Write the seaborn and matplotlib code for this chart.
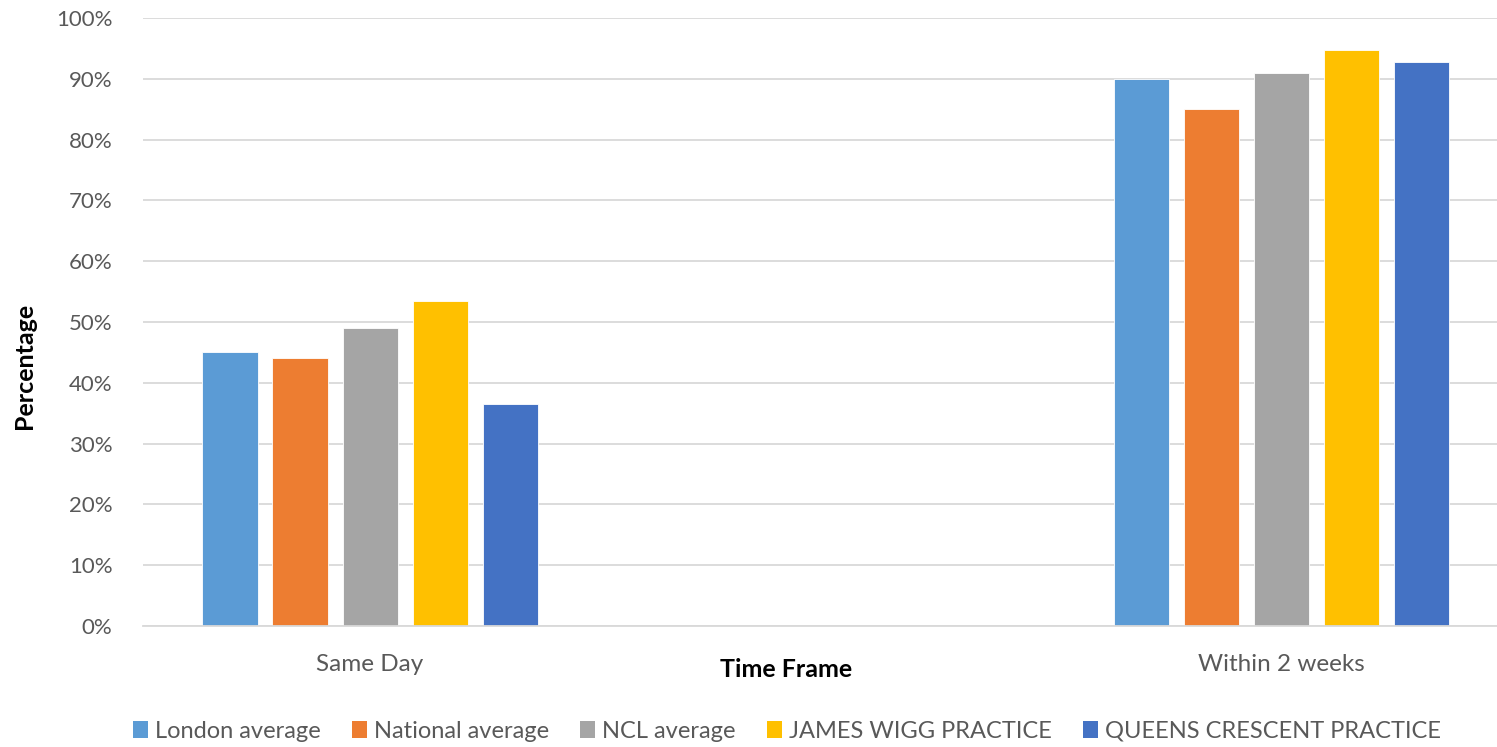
import matplotlib
matplotlib.use("Agg")
import matplotlib.pyplot as plt
import seaborn as sns
import pandas as pd
from matplotlib.patches import Patch
from matplotlib.ticker import FuncFormatter

# Share of patients seen, by time frame and practice/benchmark
time_frames = ["Same Day", "Within 2 weeks"]
series_names = ["London average", "National average", "NCL average",
                "JAMES WIGG PRACTICE", "QUEENS CRESCENT PRACTICE"]
london = [45.0, 90.0]
national = [44.0, 85.0]
ncl = [49.0, 91.0]
james_wigg = [53.4, 94.7]
queens_crescent = [36.5, 92.8]
y_ticks = [0, 10, 20, 30, 40, 50, 60, 70, 80, 90, 100]

colors = ["#5B9BD5", "#ED7D31", "#A5A5A5", "#FFC000", "#4472C4"]

rows = []
for name, vals in zip(series_names, [london, national, ncl, james_wigg, queens_crescent]):
    for tf, v in zip(time_frames, vals):
        rows.append({"Time Frame": tf, "Series": name, "Value": v})
df = pd.DataFrame(rows)

sns.set_theme(style="white")
plt.rcParams["font.family"] = ["Lato", "DejaVu Sans"]

fig = plt.figure(figsize=(14.97, 7.47), dpi=100)
ax = fig.add_axes([143 / 1497, 1 - 626 / 747, 1 - 143 / 1497, (626 - 18) / 747])

sns.barplot(data=df, x="Time Frame", y="Value", hue="Series",
            hue_order=series_names, order=time_frames, palette=colors,
            width=0.384, gap=0.214, saturation=1, errorbar=None,
            edgecolor="white", linewidth=0.6, ax=ax, legend=False)

ax.set_xlim(-0.249, 1.236)
ax.set_ylim(0, 100)
ax.set_yticks(y_ticks)
ax.yaxis.set_major_formatter(FuncFormatter(lambda v, _: f"{int(v)}%"))
ax.yaxis.grid(True, color="#D9D9D9", linewidth=1.3)
ax.set_axisbelow(True)
for s in ["top", "right", "left"]:
    ax.spines[s].set_visible(False)
ax.spines["bottom"].set_color("#D9D9D9")
ax.spines["bottom"].set_linewidth(1.3)
ax.tick_params(axis="both", length=0, colors="#595959")
ax.tick_params(axis="y", labelsize=16, pad=22)
ax.tick_params(axis="x", labelsize=17.5, pad=20)

ax.set_ylabel("Percentage", fontsize=18, fontweight="bold", color="black")
ax.set_xlabel("Time Frame", fontsize=18, fontweight="bold", color="black")
ax.xaxis.set_label_coords((786 - 143) / (1497 - 143), -(658 - 626) / 608)
ax.yaxis.set_label_coords(-(143 - 36) / (1497 - 143), (626 - 366) / 608)

handles = [Patch(facecolor=c, edgecolor="none", label=n) for c, n in zip(colors, series_names)]
fig.legend(handles=handles, loc="center", bbox_to_anchor=(787 / 1497, 1 - 731 / 747),
           ncol=5, frameon=False, fontsize=17, handlelength=0.65, handleheight=0.7,
           handletextpad=0.3, columnspacing=1.3, labelcolor="#595959")

fig.savefig("out.png", dpi=100)
